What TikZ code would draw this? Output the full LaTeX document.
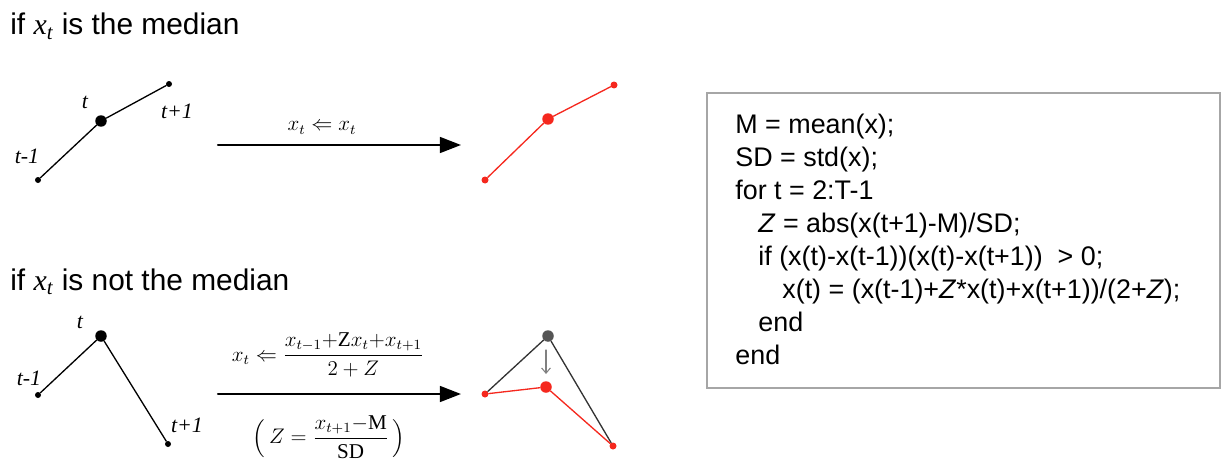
\documentclass[tikz,border=0pt]{standalone}
\usepackage{amsmath}
\usepackage[no-math]{fontspec}
\setmainfont{Liberation Sans}
\newfontfamily\tnr{Liberation Serif}
\newcommand{\zhengti}[1]{\mbox{\tnr #1}}
\newcommand{\xt}{{\tnr\itshape x\textsubscript{t}}}
\usetikzlibrary{arrows.meta}
\definecolor{dotred}{RGB}{245,40,30}
\definecolor{dotgray}{RGB}{85,85,85}

\begin{document}
\begin{tikzpicture}[x=0.02cm,y=-0.02cm,line cap=round]
	\tikzstyle{dian}=[circle,fill=black,inner sep=0pt,minimum size=0.12cm];
	\tikzstyle{dadian}=[dian,minimum size=0.23cm];
	\tikzstyle{hong}=[dian,fill=dotred,minimum size=0.14cm];
	\tikzstyle{dahong}=[dadian,fill=dotred];
	\tikzstyle{biao}=[font=\tnr\itshape\fontsize{12.5}{14}\selectfont];
	\tikzstyle{title}=[font=\fontsize{17}{20}\selectfont,anchor=base west,inner sep=0pt];
	\tikzstyle{code}=[font=\fontsize{15.3}{18}\selectfont,anchor=base west,inner sep=0pt];
	\tikzstyle{gongshi}=[font=\fontsize{12}{14}\selectfont];
	\tikzstyle{jiantou}=[line width=1.2pt,-{Triangle[length=12pt,width=9pt]}];
	\useasboundingbox (0,0) rectangle (1222,466);
	%% titles
	\node[title] (tA) at (10,35)  {if \xt\ is the median};
	\node[title] (tB) at (10,290) {if \xt\ is not the median};
	%% median case
	\node[dian]   (a1) at (38,180)  {};
	\node[dadian] (a2) at (101,121) {};
	\node[dian]   (a3) at (169,84)  {};
	\draw[line width=0.75pt] (a1) -- (a2) -- (a3);
	\node[biao] (la1) at (27,156)  {t-1};
	\node[biao] (la2) at (85,102)  {t};
	\node[biao] (la3) at (177,111) {t+1};
	\coordinate (pA) at (218,145);
	\coordinate (qA) at (461,145);
	\draw[jiantou] (pA) -- (qA);
	\node[gongshi] (fA) at (322,128) {$x_t \Leftarrow x_t$};
	\node[hong]   (ra1) at (485,180) {};
	\node[dahong] (ra2) at (548,119) {};
	\node[hong]   (ra3) at (614,85)  {};
	\draw[dotred,line width=0.75pt] (ra1) -- (ra2) -- (ra3);
	%% not the median
	\node[dian]   (b1) at (38,395)  {};
	\node[dadian] (b2) at (101,336) {};
	\node[dian]   (b3) at (168,444) {};
	\draw[line width=0.75pt] (b1) -- (b2) -- (b3);
	\node[biao] (lb1) at (29,378)  {t-1};
	\node[biao] (lb2) at (80,322)  {t};
	\node[biao] (lb3) at (187,425) {t+1};
	\coordinate (pB) at (218,394);
	\coordinate (qB) at (461,394);
	\draw[jiantou] (pB) -- (qB);
	\node[gongshi] (fB) at (328,355) {$x_t \Leftarrow \dfrac{x_{t-1}{+}\zhengti{Z}x_t{+}x_{t+1}}{2+Z}$};
	\node[gongshi] (fC) at (329,437) {$\Bigl(\,Z=\dfrac{x_{t+1}{-}\zhengti{M}}{\zhengti{SD}}\,\Bigr)$};
	\node[hong]              (rb1) at (485,394) {};
	\node[dadian,fill=dotgray] (gb2) at (548,336) {};
	\node[dahong]            (rb2) at (546,387) {};
	\node[hong]              (rb3) at (613,446) {};
	\draw[black!80,line width=0.75pt] (rb1) -- (gb2) -- (rb3);
	\draw[dotred,line width=0.75pt] (rb1) -- (rb2) -- (rb3);
	\coordinate (dA) at (546,350);
	\coordinate (dB) at (546,374);
	\draw[gray,line width=0.6pt,-{Straight Barb[length=3pt,width=5pt]}] (dA) -- (dB);
	%% code
	\draw[gray!70,line width=0.8pt] (707,93) rectangle (1220,388);
	\node[code] (c1) at (735,133) {M = mean(x);};
	\node[code] (c2) at (735,166) {SD = std(x);};
	\node[code] (c3) at (735,199) {for t = 2:T-1};
	\node[code] (c4) at (758,232) {\textit{Z} = abs(x(t+1)-M)/SD;};
	\node[code] (c5) at (758,265) {if (x(t)-x(t-1))(x(t)-x(t+1))\ \ > 0;};
	\node[code] (c6) at (782,298) {x(t) = (x(t-1)+\textit{Z}*x(t)+x(t+1))/(2+\textit{Z});};
	\node[code] (c7) at (758,331) {end};
	\node[code] (c8) at (735,364) {end};
\end{tikzpicture}
\end{document}
